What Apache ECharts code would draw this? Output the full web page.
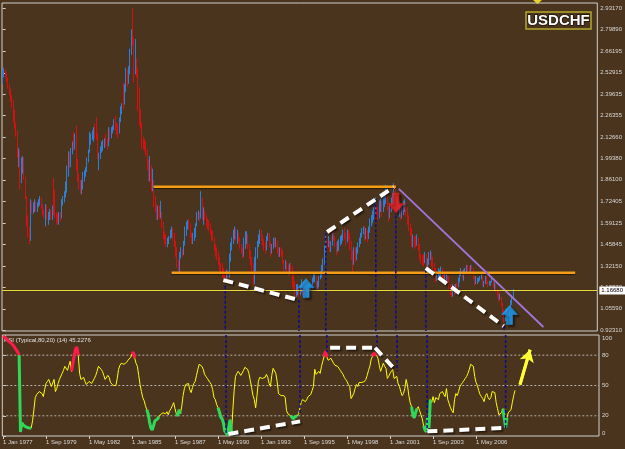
<!DOCTYPE html>
<html>
<head>
<meta charset="utf-8">
<script src="https://cdn.jsdelivr.net/npm/echarts@6/dist/echarts.min.js"></script>
<style>
html, body { margin: 0; padding: 0; background: #4a341d; }
#chart { width: 625px; height: 449px; }
</style>
</head>
<body>
<div id="chart"></div>
<script>
// ---------------- monthly USDCHF, Jan 1977 .. Oct 2008 ----------------
const startOpen = 2.47;
const closes = [
  2.53, 2.54, 2.52, 2.49, 2.46, 2.42, 2.38, 2.35, 2.30, 2.21, 2.16, 2.03,
  2.04, 1.84, 1.96, 1.98, 1.88, 1.76, 1.60, 1.54, 1.49, 1.72, 1.66, 1.70,
  1.72, 1.68, 1.70, 1.72, 1.74, 1.70, 1.66, 1.64, 1.68, 1.63, 1.64, 1.66,
  1.63, 1.69, 1.66, 1.64, 1.62, 1.61, 1.64, 1.62, 1.70, 1.75, 1.76, 1.82,
  1.93, 2.00, 1.97, 2.04, 2.08, 2.06, 2.12, 1.96, 1.88, 1.83, 1.79, 1.82,
  1.87, 1.90, 1.93, 1.98, 2.03, 2.10, 2.13, 2.15, 2.17, 2.14, 2.13, 2.00,
  2.02, 2.05, 2.08, 2.09, 2.10, 2.08, 2.07, 2.16, 2.14, 2.16, 2.18, 2.22,
  2.19, 2.17, 2.16, 2.23, 2.30, 2.33, 2.32, 2.42, 2.53, 2.50, 2.55, 2.64,
  2.76, 2.72, 2.56, 2.58, 2.53, 2.36, 2.26, 2.20, 2.10, 2.09, 2.07, 2.05,
  1.95, 1.88, 1.94, 1.82, 1.86, 1.74, 1.70, 1.64, 1.67, 1.64, 1.66, 1.59,
  1.52, 1.50, 1.46, 1.47, 1.50, 1.53, 1.55, 1.50, 1.47, 1.40, 1.33, 1.29,
  1.38, 1.41, 1.40, 1.46, 1.52, 1.58, 1.60, 1.58, 1.52, 1.48, 1.50, 1.51,
  1.57, 1.63, 1.65, 1.62, 1.74, 1.64, 1.67, 1.63, 1.60, 1.58, 1.56, 1.54,
  1.50, 1.49, 1.44, 1.41, 1.38, 1.35, 1.31, 1.29, 1.27, 1.26, 1.25, 1.28,
  1.27, 1.36, 1.44, 1.47, 1.52, 1.55, 1.50, 1.52, 1.50, 1.45, 1.42, 1.40,
  1.44, 1.50, 1.52, 1.45, 1.39, 1.35, 1.30, 1.24, 1.31, 1.38, 1.45, 1.49,
  1.52, 1.51, 1.48, 1.44, 1.43, 1.49, 1.52, 1.46, 1.41, 1.44, 1.48, 1.46,
  1.47, 1.41, 1.40, 1.42, 1.40, 1.35, 1.32, 1.34, 1.31, 1.30, 1.33, 1.31,
  1.26, 1.20, 1.15, 1.16, 1.17, 1.15, 1.18, 1.21, 1.16, 1.14, 1.16, 1.15,
  1.20, 1.18, 1.19, 1.24, 1.25, 1.25, 1.21, 1.21, 1.25, 1.27, 1.32, 1.35,
  1.42, 1.48, 1.46, 1.47, 1.42, 1.46, 1.51, 1.50, 1.45, 1.44, 1.45, 1.46,
  1.47, 1.49, 1.52, 1.51, 1.48, 1.53, 1.50, 1.45, 1.37, 1.34, 1.40, 1.38,
  1.42, 1.46, 1.48, 1.52, 1.54, 1.55, 1.50, 1.54, 1.50, 1.55, 1.60, 1.62,
  1.63, 1.66, 1.72, 1.67, 1.63, 1.70, 1.72, 1.66, 1.72, 1.76, 1.79, 1.69,
  1.64, 1.67, 1.73, 1.76, 1.81, 1.75, 1.71, 1.66, 1.69, 1.63, 1.66, 1.70,
  1.71, 1.68, 1.60, 1.58, 1.53, 1.46, 1.49, 1.48, 1.47, 1.50, 1.45, 1.39,
  1.37, 1.36, 1.35, 1.38, 1.33, 1.35, 1.39, 1.40, 1.35, 1.33, 1.30, 1.25,
  1.27, 1.28, 1.28, 1.30, 1.26, 1.25, 1.26, 1.26, 1.24, 1.20, 1.15, 1.14,
  1.19, 1.17, 1.20, 1.19, 1.24, 1.28, 1.29, 1.26, 1.29, 1.29, 1.32, 1.31,
  1.28, 1.32, 1.31, 1.25, 1.22, 1.22, 1.23, 1.24, 1.25, 1.26, 1.20, 1.22,
  1.25, 1.22, 1.21, 1.21, 1.22, 1.23, 1.20, 1.20, 1.17, 1.16, 1.12, 1.13,
  1.08, 1.04, 0.99, 1.04, 1.04, 1.02, 1.05, 1.10, 1.12, 1.1668
];
const highs = [
  2.55, 2.56, 2.55, 2.53, 2.50, 2.46, 2.43, 2.39, 2.36, 2.30, 2.22, 2.17,
  2.06, 2.05, 2.00, 2.01, 2.00, 1.88, 1.76, 1.64, 1.57, 1.74, 1.73, 1.72,
  1.74, 1.73, 1.72, 1.74, 1.76, 1.75, 1.71, 1.68, 1.71, 1.70, 1.66, 1.68,
  1.67, 1.70, 1.87, 1.80, 1.66, 1.65, 1.66, 1.66, 1.74, 1.76, 1.79, 1.85,
  1.95, 2.04, 2.03, 2.06, 2.10, 2.16, 2.15, 2.20, 1.99, 1.90, 1.86, 1.86,
  1.91, 1.92, 1.94, 2.00, 2.05, 2.16, 2.15, 2.17, 2.19, 2.21, 2.25, 2.15,
  2.03, 2.07, 2.10, 2.11, 2.12, 2.15, 2.12, 2.19, 2.18, 2.19, 2.20, 2.24,
  2.26, 2.22, 2.21, 2.25, 2.32, 2.34, 2.47, 2.46, 2.56, 2.55, 2.57, 2.68,
  2.80, 2.93, 2.75, 2.74, 2.62, 2.56, 2.44, 2.30, 2.22, 2.13, 2.12, 2.10,
  2.05, 1.99, 2.01, 1.95, 1.93, 1.86, 1.76, 1.71, 1.70, 1.70, 1.73, 1.66,
  1.60, 1.54, 1.52, 1.50, 1.51, 1.55, 1.57, 1.56, 1.53, 1.48, 1.44, 1.36,
  1.41, 1.44, 1.43, 1.48, 1.57, 1.60, 1.61, 1.62, 1.59, 1.53, 1.53, 1.56,
  1.59, 1.66, 1.67, 1.66, 1.79, 1.75, 1.69, 1.67, 1.64, 1.62, 1.61, 1.59,
  1.55, 1.54, 1.50, 1.46, 1.44, 1.41, 1.38, 1.34, 1.34, 1.31, 1.28, 1.30,
  1.30, 1.40, 1.47, 1.50, 1.55, 1.57, 1.56, 1.55, 1.53, 1.50, 1.46, 1.44,
  1.50, 1.54, 1.54, 1.52, 1.46, 1.42, 1.38, 1.34, 1.38, 1.44, 1.48, 1.52,
  1.55, 1.55, 1.52, 1.49, 1.47, 1.51, 1.53, 1.53, 1.47, 1.46, 1.50, 1.50,
  1.50, 1.48, 1.44, 1.44, 1.44, 1.42, 1.36, 1.36, 1.35, 1.33, 1.34, 1.34,
  1.32, 1.27, 1.23, 1.21, 1.21, 1.19, 1.20, 1.24, 1.21, 1.18, 1.18, 1.18,
  1.21, 1.22, 1.21, 1.25, 1.28, 1.27, 1.26, 1.23, 1.26, 1.29, 1.33, 1.37,
  1.45, 1.53, 1.50, 1.51, 1.48, 1.48, 1.53, 1.55, 1.51, 1.47, 1.48, 1.49,
  1.51, 1.52, 1.55, 1.56, 1.53, 1.55, 1.55, 1.53, 1.48, 1.42, 1.44, 1.44,
  1.44, 1.47, 1.50, 1.53, 1.56, 1.57, 1.57, 1.56, 1.55, 1.57, 1.62, 1.64,
  1.67, 1.69, 1.75, 1.73, 1.69, 1.73, 1.74, 1.73, 1.75, 1.79, 1.83, 1.78,
  1.70, 1.71, 1.75, 1.78, 1.84, 1.83, 1.77, 1.75, 1.73, 1.71, 1.69, 1.73,
  1.74, 1.72, 1.69, 1.64, 1.59, 1.56, 1.52, 1.51, 1.51, 1.52, 1.50, 1.46,
  1.40, 1.39, 1.40, 1.41, 1.40, 1.37, 1.41, 1.42, 1.41, 1.38, 1.34, 1.31,
  1.28, 1.31, 1.30, 1.32, 1.31, 1.28, 1.28, 1.28, 1.27, 1.26, 1.21, 1.19,
  1.21, 1.21, 1.21, 1.22, 1.25, 1.29, 1.31, 1.30, 1.30, 1.31, 1.33, 1.33,
  1.32, 1.33, 1.33, 1.31, 1.26, 1.26, 1.25, 1.25, 1.26, 1.28, 1.26, 1.23,
  1.26, 1.26, 1.23, 1.23, 1.23, 1.25, 1.23, 1.22, 1.21, 1.18, 1.17, 1.15,
  1.13, 1.09, 1.05, 1.05, 1.06, 1.05, 1.06, 1.11, 1.14, 1.18
];
const lows = [
  2.46, 2.50, 2.50, 2.47, 2.43, 2.39, 2.35, 2.31, 2.22, 2.18, 2.13, 2.00,
  1.94, 1.80, 1.84, 1.90, 1.86, 1.74, 1.57, 1.50, 1.46, 1.48, 1.65, 1.65,
  1.66, 1.66, 1.66, 1.69, 1.70, 1.68, 1.64, 1.62, 1.57, 1.61, 1.58, 1.61,
  1.61, 1.61, 1.64, 1.62, 1.58, 1.59, 1.58, 1.60, 1.62, 1.70, 1.72, 1.75,
  1.78, 1.88, 1.93, 1.94, 2.02, 2.04, 2.05, 1.92, 1.85, 1.80, 1.77, 1.77,
  1.80, 1.85, 1.88, 1.91, 1.97, 2.03, 2.08, 2.11, 2.10, 2.12, 2.11, 1.99,
  1.92, 1.99, 2.03, 2.04, 2.06, 2.07, 2.05, 2.07, 2.10, 2.12, 2.15, 2.17,
  2.17, 2.14, 2.12, 2.15, 2.22, 2.27, 2.30, 2.33, 2.41, 2.44, 2.46, 2.52,
  2.64, 2.70, 2.47, 2.52, 2.50, 2.29, 2.20, 2.18, 2.06, 2.05, 2.04, 2.01,
  1.92, 1.85, 1.85, 1.79, 1.79, 1.69, 1.66, 1.61, 1.61, 1.62, 1.62, 1.56,
  1.49, 1.46, 1.44, 1.44, 1.46, 1.49, 1.50, 1.48, 1.44, 1.38, 1.31, 1.27,
  1.28, 1.37, 1.38, 1.39, 1.45, 1.51, 1.55, 1.55, 1.50, 1.46, 1.46, 1.48,
  1.50, 1.57, 1.61, 1.60, 1.62, 1.61, 1.58, 1.61, 1.57, 1.55, 1.54, 1.52,
  1.48, 1.48, 1.42, 1.38, 1.36, 1.33, 1.29, 1.27, 1.25, 1.24, 1.23, 1.23,
  1.23, 1.25, 1.35, 1.42, 1.46, 1.49, 1.48, 1.46, 1.47, 1.43, 1.40, 1.37,
  1.38, 1.43, 1.46, 1.43, 1.37, 1.33, 1.29, 1.20, 1.21, 1.29, 1.37, 1.44,
  1.46, 1.48, 1.45, 1.42, 1.40, 1.42, 1.48, 1.44, 1.38, 1.40, 1.43, 1.44,
  1.44, 1.40, 1.38, 1.38, 1.38, 1.34, 1.29, 1.30, 1.28, 1.26, 1.27, 1.29,
  1.19, 1.17, 1.12, 1.13, 1.14, 1.13, 1.14, 1.16, 1.14, 1.12, 1.13, 1.13,
  1.14, 1.16, 1.17, 1.18, 1.22, 1.22, 1.18, 1.18, 1.19, 1.24, 1.25, 1.29,
  1.33, 1.41, 1.43, 1.44, 1.41, 1.41, 1.45, 1.48, 1.44, 1.39, 1.41, 1.42,
  1.45, 1.46, 1.48, 1.49, 1.45, 1.47, 1.48, 1.42, 1.36, 1.28, 1.33, 1.35,
  1.36, 1.40, 1.44, 1.46, 1.50, 1.52, 1.48, 1.49, 1.47, 1.49, 1.53, 1.57,
  1.59, 1.61, 1.65, 1.64, 1.61, 1.62, 1.66, 1.63, 1.66, 1.69, 1.71, 1.67,
  1.60, 1.62, 1.66, 1.70, 1.74, 1.73, 1.69, 1.65, 1.63, 1.61, 1.62, 1.64,
  1.66, 1.63, 1.58, 1.54, 1.51, 1.44, 1.44, 1.43, 1.44, 1.45, 1.42, 1.36,
  1.34, 1.33, 1.32, 1.34, 1.30, 1.32, 1.33, 1.36, 1.32, 1.30, 1.28, 1.22,
  1.23, 1.25, 1.24, 1.26, 1.24, 1.22, 1.22, 1.23, 1.22, 1.18, 1.14, 1.13,
  1.13, 1.14, 1.15, 1.16, 1.19, 1.22, 1.26, 1.24, 1.23, 1.27, 1.27, 1.29,
  1.26, 1.28, 1.30, 1.24, 1.20, 1.21, 1.21, 1.22, 1.23, 1.24, 1.20, 1.19,
  1.21, 1.21, 1.19, 1.20, 1.20, 1.22, 1.19, 1.17, 1.16, 1.13, 1.10, 1.11,
  1.07, 1.03, 0.97, 0.98, 1.01, 1.01, 1.01, 1.04, 1.08, 1.11
];
// RSI (Typical, 14), one value per month
const rsi = [
  99, 98, 97, 96, 94, 93, 92, 91, 89, 87, 85, 83,
  80, 4, 13, 11, 10, 9, 9, 8, 8, 8, 15, 26,
  38, 41, 42, 44, 44, 42, 39, 46, 52, 54, 56, 55,
  49, 48, 56, 44, 47, 52, 56, 57, 62, 65, 69, 68,
  65, 70, 74, 64, 72, 80, 86, 88, 80, 62, 56, 55,
  58, 54, 51, 52, 54, 53, 52, 53, 57, 60, 64, 69,
  68, 66, 64, 60, 56, 57, 60, 58, 53, 52, 50, 49,
  50, 57, 66, 70, 72, 72, 71, 70, 73, 75, 76, 78,
  81, 83, 77, 72, 69, 60, 51, 44, 38, 35, 30, 26,
  22, 14, 8, 6, 10, 15, 14, 17, 19, 21, 22, 23,
  23, 22, 24, 21, 25, 27, 30, 33, 27, 22, 20, 26,
  22, 29, 40, 47, 51, 52, 52, 46, 43, 48, 52, 54,
  60, 66, 71, 72, 69, 66, 61, 59, 57, 56, 53, 51,
  46, 38, 36, 31, 28, 24, 19, 17, 13, 5, 3, 1,
  1, 16, 3, 25, 45, 59, 62, 64, 64, 60, 61, 65,
  68, 69, 66, 62, 55, 48, 40, 36, 28, 40, 54, 58,
  59, 57, 56, 58, 61, 58, 52, 49, 60, 67, 68, 62,
  54, 42, 41, 40, 40, 40, 38, 25, 22, 21, 20, 19,
  17, 19, 18, 20, 22, 28, 34, 36, 35, 34, 36, 39,
  40, 41, 45, 49, 66, 61, 62, 64, 62, 69, 74, 79,
  84, 78, 75, 76, 77, 76, 72, 70, 70, 69, 67, 65,
  64, 61, 58, 56, 54, 51, 49, 37, 37, 42, 47, 51,
  49, 53, 54, 53, 52, 54, 56, 60, 65, 69, 76, 79,
  82, 81, 80, 77, 70, 64, 65, 72, 69, 67, 57, 59,
  62, 64, 66, 57, 58, 59, 52, 49, 44, 40, 42, 47,
  56, 50, 40, 33, 29, 21, 18, 23, 27, 29, 25, 21,
  17, 10, 6, 4, 19, 8, 36, 33, 39, 33, 38, 38,
  36, 42, 43, 44, 41, 39, 47, 36, 32, 28, 25, 23,
  36, 42, 40, 44, 49, 51, 53, 55, 57, 59, 62, 66,
  71, 71, 69, 59, 53, 50, 45, 41, 39, 37, 34, 40,
  42, 38, 36, 38, 44, 45, 43, 33, 27, 21, 21, 23,
  27, 18, 8, 18, 23, 23, 26, 33, 40, 45.2276
];
const lastPrice = 1.1668;
const tickLabels = ['1 Jan 1977', '1 Sep 1979', '1 May 1982', '1 Jan 1985', '1 Sep 1987', '1 May 1990',
                    '1 Jan 1993', '1 Sep 1995', '1 May 1998', '1 Jan 2001', '1 Sep 2003', '1 May 2006'];
const priceTicks = [2.9317, 2.7989, 2.66195, 2.52915, 2.39635, 2.26355, 2.1266, 1.9938,
                    1.861, 1.72405, 1.59125, 1.45845, 1.3215, 1.1887, 1.0559, 0.9231];
const rsiTicks = [0, 20, 50, 80, 100];
const rsiLevels = [20, 50, 80];
// month ranges where the RSI is drawn highlighted
const redSpans = [[0, 12], [51, 56], [96, 98], [239, 241], [275, 278]];
const greenSpans = [[12, 21], [107, 116], [129, 132], [160, 170], [214, 219], [304, 308], [313, 318], [372, 375]];

// ---------------- hand drawn analysis, [month index, value] ----------------
const levelLines = [[[112.5, 1.818], [293.3, 1.818]], [[126, 1.28], [427, 1.28]]];
const priceDashes = [[[164.6, 1.235], [220.4, 1.111]], [[242, 1.535], [291.8, 1.816]], [[315.6, 1.31], [373.6, 0.948]]];
const trendLine = [[295.5, 1.804], [403.3, 0.942]];
const upArrows = [[226.3, 1.185], [378, 1.017]];
const downArrows = [[293.3, 1.716]];
const guideMonths = [166, 221, 241, 278.3, 293.2, 315.6, 374];
const guidePrice = [1.20, 1.11, 1.53, 1.74, 1.70, 1.30, 0.95];
const guideRsi = [1, 22, 83, 83, 64, 5, 8];
const rsiDashes = [[[167.8, 2], [221.1, 14.5]], [[243.4, 87.4], [276.9, 87.4]], [[276.9, 87.4], [291.8, 65.6]], [[315.8, 4.6], [372.3, 8]]];
const rsiArrow = [[384.7, 50.8], [392.2, 85.4]];

// ---------------------------------------------------------------------------
const slots = 444;
const priceMin = 0.917, priceMax = 2.965;
const months = Array.from({ length: slots }, (_, i) => String(i));
const candles = closes.map((c, i) => [i ? closes[i - 1] : startOpen, c, lows[i], highs[i]]);
const pick = spans => rsi.map((v, i) => spans.some(s => i >= s[0] && i <= s[1]) ? v : null);
const font = 'Liberation Sans';
const textCol = '#d9d9d9';

function seg(points, xi, yi, style, z) {
  return { type: 'line', xAxisIndex: xi, yAxisIndex: yi, data: points, symbol: 'none', silent: true,
           lineStyle: style, z: z, animation: false };
}
const whiteDash = { color: '#ffffff', width: 4, type: [10, 6], cap: 'butt',
                    shadowColor: 'rgba(0,0,0,0.6)', shadowBlur: 2, shadowOffsetX: 1.5, shadowOffsetY: 1.5 };
const orange = { color: '#f59d14', width: 2.5, shadowColor: 'rgba(0,0,0,0.5)', shadowBlur: 1, shadowOffsetY: 1 };
const navy = { color: '#0b0b8e', width: 1.5, type: [3, 2] };
const arrowPath = 'path://M8,0 L16,9 L11,9 L11,19 L5,19 L5,9 L0,9 Z';

const series = [
  {
    type: 'candlestick', xAxisIndex: 0, yAxisIndex: 0, data: candles, barWidth: 1, z: 2,
    itemStyle: { color: '#1e8fff', color0: '#ff1212', borderColor: '#2c7fd6', borderColor0: '#d41010', borderWidth: 1 },
    markLine: {
      silent: true, symbol: 'none', animation: false,
      lineStyle: { color: '#ecdf3c', width: 1, type: 'solid', shadowColor: 'rgba(0,0,0,0.8)', shadowBlur: 1 },
      label: { position: 'end', formatter: lastPrice.toFixed(5), backgroundColor: '#ffffff', color: '#000000',
               fontSize: 6, fontFamily: font, padding: [1, 2], distance: 2 },
      data: [{ yAxis: lastPrice }]
    }
  },
  { type: 'line', xAxisIndex: 1, yAxisIndex: 1, data: rsi, symbol: 'none', z: 3, animation: false,
    lineStyle: { color: '#ffff00', width: 1 } },
  { type: 'line', xAxisIndex: 1, yAxisIndex: 1, data: pick(redSpans), symbol: 'none', z: 4, animation: false,
    lineStyle: { color: '#ff1a4b', width: 3 } },
  { type: 'line', xAxisIndex: 1, yAxisIndex: 1, data: pick(greenSpans), symbol: 'none', z: 4, animation: false,
    lineStyle: { color: '#2fd85a', width: 3 } }
];
rsiLevels.forEach(l => series.push(seg([[-0.5, l], [slots - 0.5, l]], 3, 1, { color: '#b5b0a8', width: 1, type: [2, 2] }, 1)));
levelLines.forEach(p => series.push(seg(p, 2, 0, orange, 4)));
guideMonths.forEach((m, k) => {
  series.push(seg([[m, guidePrice[k]], [m, priceMin]], 2, 0, navy, 4));
  series.push(seg([[m, 100], [m, guideRsi[k]]], 3, 1, navy, 4));
});
series.push(seg(trendLine, 2, 0, { color: '#a274dc', width: 1.8 }, 4));
priceDashes.forEach(p => series.push(seg(p, 2, 0, whiteDash, 5)));
rsiDashes.forEach(p => series.push(seg(p, 3, 1, whiteDash, 5)));
series.push({
  type: 'line', xAxisIndex: 3, yAxisIndex: 1, data: rsiArrow, symbol: 'none', z: 6, silent: true, animation: false,
  lineStyle: { color: '#ffff33', width: 3 },
  markLine: { silent: true, animation: false, symbol: ['none', 'arrow'], symbolSize: [11, 12],
              label: { show: false }, lineStyle: { color: '#ffff33', width: 3, type: 'solid' },
              data: [[{ coord: rsiArrow[0] }, { coord: rsiArrow[1] }]] }
});
series.push({
  type: 'scatter', xAxisIndex: 2, yAxisIndex: 0, data: upArrows, symbol: arrowPath, symbolSize: [16, 19], z: 7,
  silent: true, animation: false,
  itemStyle: { color: '#22a8ff', borderColor: '#1b86d8', borderWidth: 0.8,
               shadowColor: 'rgba(0,0,0,0.6)', shadowBlur: 2, shadowOffsetX: 2, shadowOffsetY: 2 }
});
series.push({
  type: 'scatter', xAxisIndex: 2, yAxisIndex: 0, data: downArrows, symbol: arrowPath, symbolRotate: 180,
  symbolSize: [16, 20], z: 7, silent: true, animation: false,
  itemStyle: { color: '#ff2b2b', borderColor: '#c81818', borderWidth: 0.8,
               shadowColor: 'rgba(0,0,0,0.6)', shadowBlur: 2, shadowOffsetX: 2, shadowOffsetY: 2 }
});

const chart = echarts.init(document.getElementById('chart'));
chart.setOption({
  backgroundColor: '#4a341d',
  animation: false,
  grid: [
    { left: 2, top: 3, width: 597, height: 328, show: true, borderColor: '#cfcfcf', borderWidth: 1 },
    { left: 2, top: 335, width: 597, height: 101, show: true, borderColor: '#cfcfcf', borderWidth: 1 }
  ],
  xAxis: [
    { type: 'category', gridIndex: 0, data: months, axisLine: { show: false }, axisTick: { show: false },
      axisLabel: { show: false }, splitLine: { show: false } },
    { type: 'category', gridIndex: 1, data: months, axisLine: { show: false }, splitLine: { show: false },
      axisTick: { show: true, alignWithLabel: true, length: 3, lineStyle: { color: '#cfcfcf' },
                  interval: i => i % 32 === 0 && i <= 352 },
      axisLabel: { interval: i => i % 32 === 0 && i <= 352, align: 'left', margin: 3, fontSize: 6,
                   fontFamily: font, color: textCol, formatter: (v, i) => tickLabels[i / 32] || '' } },
    { type: 'value', gridIndex: 0, min: -0.5, max: slots - 0.5, show: false },
    { type: 'value', gridIndex: 1, min: -0.5, max: slots - 0.5, show: false }
  ],
  yAxis: [
    { type: 'value', gridIndex: 0, position: 'right', min: priceMin, max: priceMax, splitLine: { show: false },
      axisLine: { show: false },
      axisTick: { show: true, length: 3, customValues: priceTicks, lineStyle: { color: '#cfcfcf' } },
      axisLabel: { customValues: priceTicks, formatter: v => v.toFixed(5), fontSize: 6, margin: 3,
                   fontFamily: font, color: textCol } },
    { type: 'value', gridIndex: 1, position: 'right', min: 0, max: 100, splitLine: { show: false },
      axisLine: { show: false },
      axisTick: { show: true, length: 3, customValues: rsiTicks, lineStyle: { color: '#cfcfcf' } },
      axisLabel: { customValues: rsiTicks, fontSize: 6, margin: 3, fontFamily: font, color: textCol,
                   formatter: v => v === 100 ? '{t|100}' : v === 0 ? '{b|0}' : String(v),
                   rich: { t: { padding: [6, 0, 0, 0], fontSize: 6, color: textCol },
                           b: { padding: [0, 0, 6, 0], fontSize: 6, color: textCol } } } }
  ],
  graphic: [
    { type: 'rect', shape: { x: 526, y: 12, width: 65, height: 17 }, z: 10,
      style: { fill: 'transparent', stroke: '#b3a62c', lineWidth: 1.5 } },
    { type: 'text', z: 11, style: { text: 'USDCHF', x: 558.5, y: 21, align: 'center', verticalAlign: 'middle',
      font: 'bold 15px Liberation Sans', fill: '#ffffff', stroke: '#1a1208', lineWidth: 1.5 } },
    { type: 'polygon', z: 10, shape: { points: [[533, 0], [542, 0], [537.5, 4]] }, style: { fill: '#e8d22a' } },
    { type: 'text', z: 1, style: { text: 'RSI (Typical,80,20) (14) 45.2276', x: 4, y: 340, verticalAlign: 'middle',
      font: '6px Liberation Sans', fill: '#e2e2e2' } }
  ],
  series: series
});
</script>
</body>
</html>
